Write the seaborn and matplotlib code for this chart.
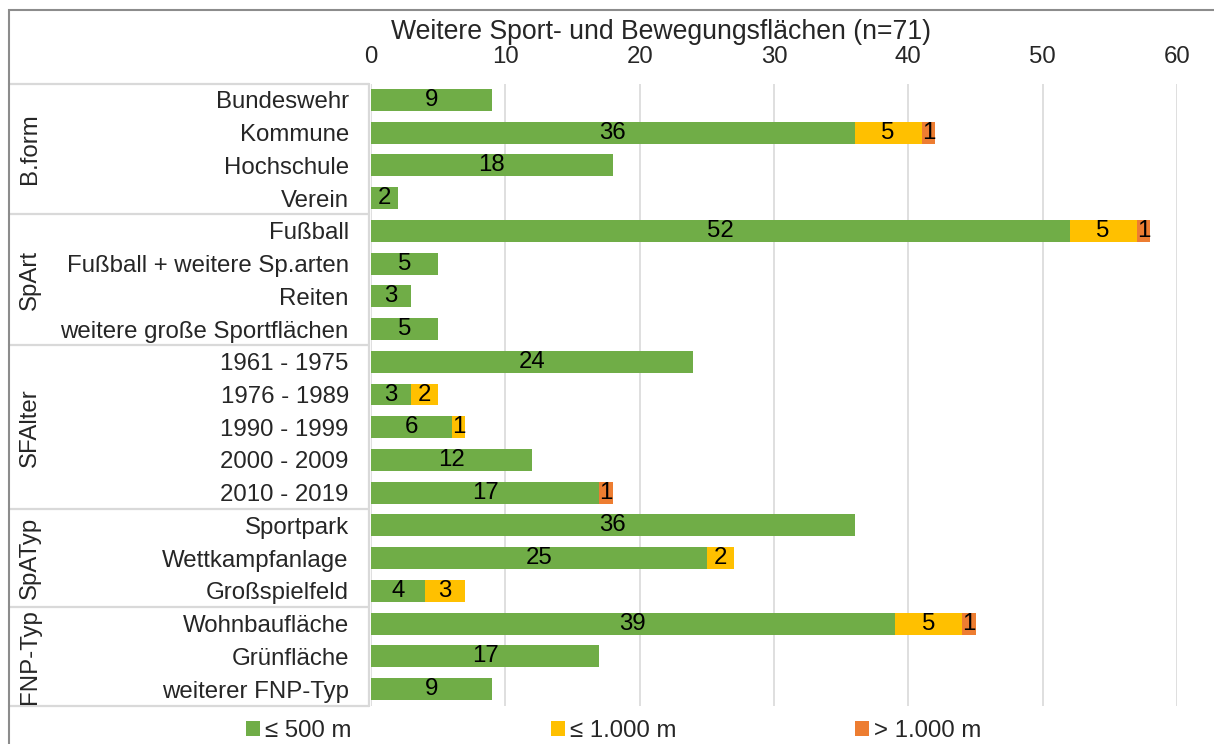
import numpy as np
import pandas as pd
import matplotlib
matplotlib.use("Agg")
import matplotlib.pyplot as plt
import matplotlib.transforms as mtrans
from matplotlib.patches import Patch, Rectangle
import seaborn as sns

# data
categories = ["Bundeswehr", "Kommune", "Hochschule", "Verein",
              "Fußball", "Fußball + weitere Sp.arten", "Reiten", "weitere große Sportflächen",
              "1961 - 1975", "1976 - 1989", "1990 - 1999", "2000 - 2009", "2010 - 2019",
              "Sportpark", "Wettkampfanlage", "Großspielfeld",
              "Wohnbaufläche", "Grünfläche", "weiterer FNP-Typ"]
le_500 = [9, 36, 18, 2, 52, 5, 3, 5, 24, 3, 6, 12, 17, 36, 25, 4, 39, 17, 9]
le_1000 = [0, 5, 0, 0, 5, 0, 0, 0, 0, 2, 1, 0, 0, 0, 2, 3, 5, 0, 0]
gt_1000 = [0, 1, 0, 0, 1, 0, 0, 0, 0, 0, 0, 0, 1, 0, 0, 0, 1, 0, 0]
groups = ["B.form", "SpArt", "SFAlter", "SpATyp", "FNP-Typ"]
group_sizes = [4, 4, 5, 3, 3]
series = ["≤ 500 m", "≤ 1.000 m", "> 1.000 m"]
colors = ["#70AD47", "#FFC000", "#ED7D31"]
title = "Weitere Sport- und Bewegungsflächen (n=71)"

df = pd.DataFrame({"cat": categories, "a": le_500, "b": le_1000, "c": gt_1000})
df["cum_a"] = df["a"]
df["cum_b"] = df["a"] + df["b"]
df["cum_c"] = df["a"] + df["b"] + df["c"]

sns.set_style("white")
plt.rcParams["font.family"] = ["Liberation Sans", "DejaVu Sans"]
FS = 17.3

W, H = 1214, 744
fig = plt.figure(figsize=(W / 100, H / 100), dpi=100)
ax = fig.add_axes([371 / W, 1 - 705.5 / H, (1177 - 371) / W, (705.5 - 83.5) / H])

# stacked bars: draw cumulative totals from the back to the front
for col, c in zip(["cum_c", "cum_b", "cum_a"], colors[::-1]):
    sns.barplot(data=df, x=col, y="cat", order=categories, orient="h",
                color=c, saturation=1, width=0.67, linewidth=0, ax=ax, zorder=3)

# segment labels
for i, row in df.iterrows():
    start = 0
    for v in (row["a"], row["b"], row["c"]):
        if v > 0:
            ax.text(start + v / 2, i, str(v), ha="center", va="center",
                    fontsize=FS, color="black", zorder=5)
        start += v

ax.set_xlim(0, 60)
ax.set_ylim(len(categories) - 0.5, -0.5)
ax.set_xticks(np.arange(0, 61, 10))
ax.xaxis.tick_top()
ax.grid(axis="x", color="#d9d9d9", lw=1.2, zorder=0)
ax.grid(axis="y", visible=False)
for s in ax.spines.values():
    s.set_visible(False)
ax.tick_params(axis="x", length=0, pad=11, labelsize=FS)
ax.tick_params(axis="y", length=0, pad=16, labelsize=FS)
ax.set_xlabel("")
ax.set_ylabel("")

# category table on the left
tr = mtrans.blended_transform_factory(fig.transFigure, ax.transData)
bounds = np.concatenate([[0], np.cumsum(group_sizes)]) - 0.5
for b in bounds:
    ax.plot([9 / W, 369 / W], [b, b], transform=tr, color="#d9d9d9", lw=1.6,
            clip_on=False, zorder=1)
ax.plot([369 / W, 369 / W], [bounds[0], bounds[-1]], transform=tr,
        color="#d9d9d9", lw=1.6, clip_on=False, zorder=1)
for g, lo, hi in zip(groups, bounds[:-1], bounds[1:]):
    ax.text(30 / W, (lo + hi) / 2, g, transform=tr, rotation=90,
            ha="center", va="center", fontsize=FS)

# title
fig.text(661 / W, 1 - 32 / H, title, ha="center", va="center", fontsize=19.2)

# outer frame
fig.add_artist(Rectangle((9 / W, -0.1), 1.2, 1 - 10 / H + 0.1,
                         transform=fig.transFigure, fill=False,
                         edgecolor="#8c8c8c", lw=1.5))

# legend: entries at equal spacing like the original
for x0, lab, c in zip([246, 551, 855], series, colors):
    fig.legend([Patch(facecolor=c, edgecolor="none")], [lab], loc="center left",
               bbox_to_anchor=(x0 / W, 1 - 731 / H), frameon=False, fontsize=FS,
               handlelength=0.6, handleheight=0.6, handletextpad=0.2,
               borderpad=0, borderaxespad=0)

fig.savefig("out.png", dpi=100)
